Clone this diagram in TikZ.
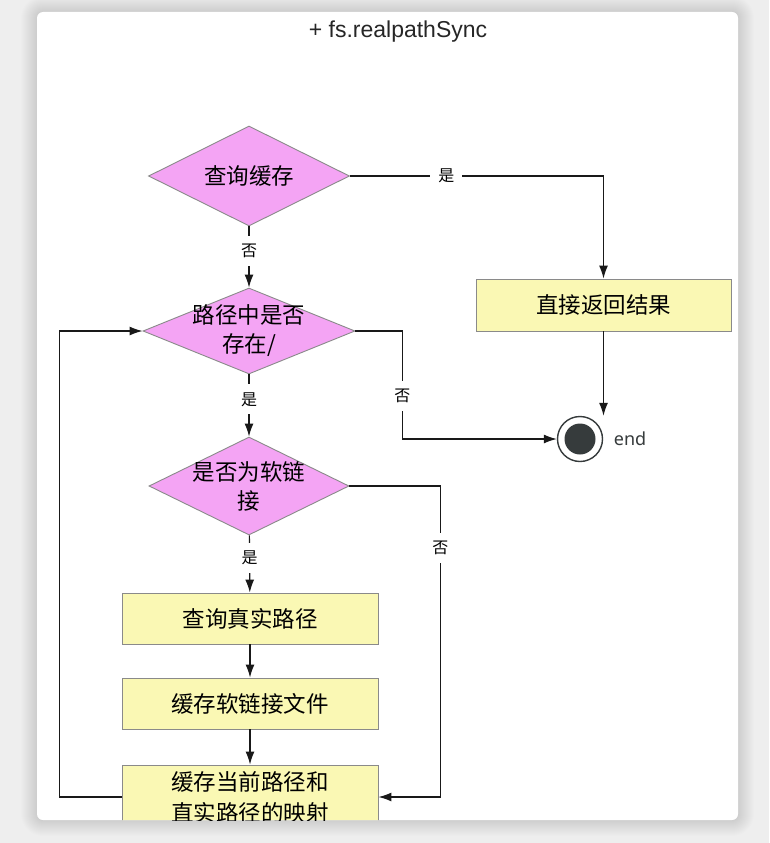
\documentclass[tikz,border=0pt]{standalone}
\usepackage{fontspec}
\setmainfont{Liberation Sans}
\newfontfamily\cjk{Noto Sans CJK SC}
\newfontfamily\endfont{Noto Sans}
\usetikzlibrary{shapes.geometric,arrows.meta}

\definecolor{decfill}{RGB}{244,164,244}
\definecolor{boxfill}{RGB}{250,248,180}
\definecolor{edgegray}{RGB}{138,138,138}
\definecolor{bggray}{RGB}{238,238,238}
\definecolor{enddark}{RGB}{54,59,60}

\begin{document}
\begin{tikzpicture}[
                x=1pt,y=-1pt,
                line width=1.2pt,
                dec/.style={diamond,draw=edgegray,line width=0.9pt,fill=decfill,inner sep=0pt},
                stepbox/.style={rectangle,draw=edgegray,line width=0.9pt,fill=boxfill,
                    minimum width=256pt,align=center,font=\cjk\fontsize{22.5}{31}\selectfont},
                txt/.style={align=center,font=\cjk\fontsize{22.5}{29}\selectfont},
                lab/.style={fill=white,inner sep=8pt,font=\cjk\fontsize{16}{18}\selectfont},
                arr/.style={draw=black!90,-{Latex[length=13pt,width=9pt]}}] %

% page and card
\useasboundingbox (0,0) rectangle (769,843);
\fill[bggray] (0,0) rectangle (769,843);
\foreach \s in {1,...,16}
  \fill[black,opacity=0.008,rounded corners=6pt+\s pt] (37-\s,12-\s) rectangle (738+\s,820+\s);
\fill[white,rounded corners=6pt] (37,12) rectangle (738,820);

\begin{scope}
\clip[rounded corners=6pt] (37,12) rectangle (738,820);

                    \node[font=\fontsize{23}{26}\selectfont,text=black!85] (TITLE) at (398,32) {+ fs.realpathSync};

                    % decisions
                    \node[dec,minimum width=201pt,minimum height=100pt,
                          label={[txt]center:查询缓存}] (D1) at (249,176) {};
                    \node[dec,minimum width=212pt,minimum height=86pt,
                          label={[txt]center:路径中是否\\存在/}] (D2) at (249,331) {};
                    \node[dec,minimum width=200pt,minimum height=98pt,
                          label={[txt]center:是否为软链\\接}] (D3) at (249,486) {};

                    % steps
                    \node[stepbox,minimum width=255pt,minimum height=52pt] (R0) at (603.5,305) {直接返回结果};
                    \node[stepbox,minimum height=51pt] (R1) at (250,618.5) {查询真实路径};
                    \node[stepbox,minimum height=51pt] (R2) at (250,703.5) {缓存软链接文件};
                    \node[stepbox,minimum height=64pt] (R3) at (250,797) {缓存当前路径和\\直实路径的映射};

                    % end
                    \node[circle,draw=enddark,line width=1.4pt,fill=white,minimum size=45pt,inner sep=0pt] (END) at (580,439) {};
                    \fill[enddark] (END.center) circle (15.5);
                    \node[font=\endfont\fontsize{18}{20}\selectfont,text=enddark,anchor=west] (ENDTXT) at (610,439) {end};

                    \draw[arr] (D1) -- node[lab,pos=0.4] {否} (D2);
                    \draw[arr] (D1.east) -- node[lab,pos=0.38] {是} (D1.east -| R0.north) -- (R0.north);
                    \draw[arr] (R0) -- (R0 |- END.north);

                    \draw[arr] (D2) -- node[lab,pos=0.4] {是} (D3);
                    \draw[arr] (D2.east) -- ++(47,0) |- node[lab,pos=0.3] {否} (END.west);

                    \draw[arr] (D3) -- node[lab,pos=0.4] {是} (R1);
                    \draw[arr] (D3.east) -- ++(91,0) |- node[lab,pos=0.1] {否} (R3.east);

                    \draw[arr] (R1) -- (R2);
                    \draw[arr] (R2) -- (R3);
                    \draw[arr] (R3.west) -- ++(-62,0) |- (D2.west);

\end{scope}
\end{tikzpicture}
\end{document}
